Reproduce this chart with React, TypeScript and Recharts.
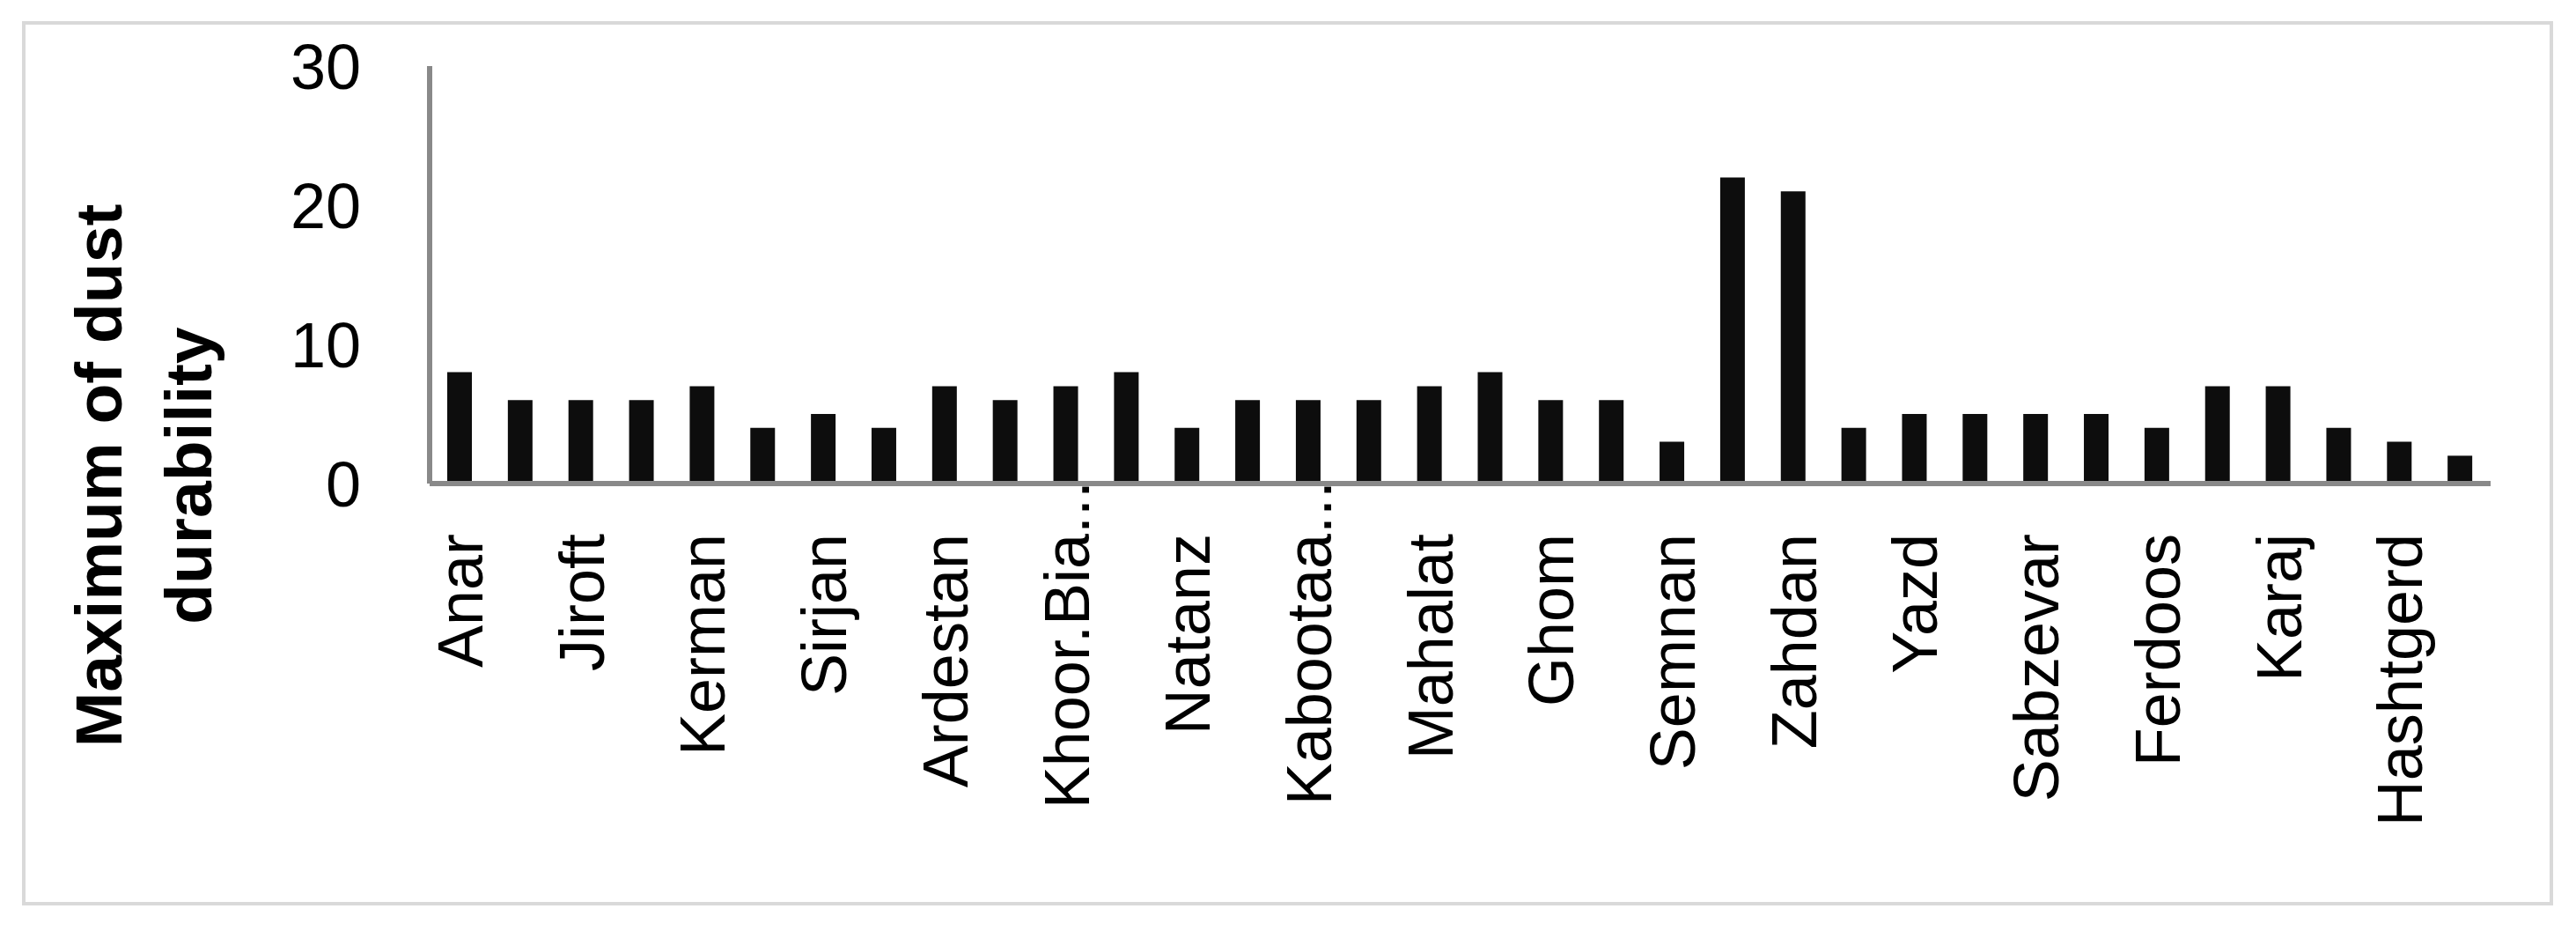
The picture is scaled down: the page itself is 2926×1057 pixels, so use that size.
import React from 'react';
import { BarChart, Bar, XAxis, YAxis, Label } from 'recharts';

// station names (only every other one is shown on the axis)
const stations = [
    'Anar', 'Bam', 'Jiroft', 'Rafsanjan', 'Kerman', 'Shahrbabak', 'Sirjan', 'Kashan',
    'Ardestan', 'Isfahan', 'Khoor.Bia...', 'Naein', 'Natanz', 'Shahreza', 'Kabootaa...', 'Golpayegan',
    'Mahalat', 'Arak', 'Ghom', 'Garmsar', 'Semnan', 'Zabol', 'Zahdan', 'Iranshahr',
    'Yazd', 'Tabas', 'Sabzevar', 'Mashhad', 'Ferdoos', 'Gonabad', 'Karaj', 'Tehran',
    'Hashtgerd', 'Qazvin',
];

// maximum of dust durability per station
const maxDurability = [
    8, 6, 6, 6, 7, 4, 5, 4,
    7, 6, 7, 8, 4, 6, 6, 6,
    7, 8, 6, 6, 3, 22, 21, 4,
    5, 5, 5, 5, 4, 7, 7, 4,
    3, 2,
];

const yTicks = [0, 10, 20, 30];
const titleLines = ['Maximum of dust', 'durability'];

const data = stations.map((name, i) => ({ name, value: maxDurability[i] }));

const FONT = "'Liberation Sans', Arial, sans-serif";
const AXIS_GREY = '#898989';

const CategoryTick = (props: any) => {
    const { x, y, payload } = props;
    const label: string = payload.value;
    // Excel-truncated labels sit right under the axis
    const ty = y + (label.endsWith('...') ? -3 : 57);
    return (
        <text
            x={x}
            y={ty}
            dy="0.355em"
            transform={`rotate(-90, ${x}, ${ty})`}
            textAnchor="end"
            fontSize={72}
            fontFamily={FONT}
            fill="#000"
        >
            {label}
        </text>
    );
};

const renderTitle = () => (
    <g>
        <text x={109} y={512} transform="rotate(-90, 109, 512)" textAnchor="middle"
            fontSize={75} fontWeight="bold" fontFamily={FONT} fill="#000">
            {titleLines[0]}
        </text>
        <text x={211} y={512} transform="rotate(-90, 211, 512)" textAnchor="middle"
            fontSize={75} fontWeight="bold" fontFamily={FONT} fill="#000">
            {titleLines[1]}
        </text>
    </g>
);

const App: React.FC = () => {
    return (
        <div
            style={{
                marginLeft: 17,
                marginTop: 16,
                width: 2867,
                height: 996,
                border: '4px solid #d9d9d9',
                background: '#fff',
            }}
        >
            <BarChart
                width={2867}
                height={996}
                data={data}
                margin={{ top: 47, right: 67, left: 0, bottom: 0 }}
            >
                <XAxis
                    dataKey="name"
                    height={475}
                    interval={1}
                    tickLine={false}
                    tickSize={0}
                    tickMargin={0}
                    axisLine={{ stroke: AXIS_GREY, strokeWidth: 6 }}
                    tick={<CategoryTick />}
                />
                <YAxis
                    width={459}
                    domain={[0, 30]}
                    ticks={yTicks}
                    tickLine={false}
                    tickSize={0}
                    tickMargin={78}
                    axisLine={{ stroke: AXIS_GREY, strokeWidth: 6 }}
                    tick={{ fontSize: 72, fill: '#000', fontFamily: FONT }}
                >
                    <Label content={renderTitle} />
                </YAxis>
                <Bar dataKey="value" fill="#0d0d0d" barSize={28} isAnimationActive={false} />
            </BarChart>
        </div>
    );
};

export default App;
